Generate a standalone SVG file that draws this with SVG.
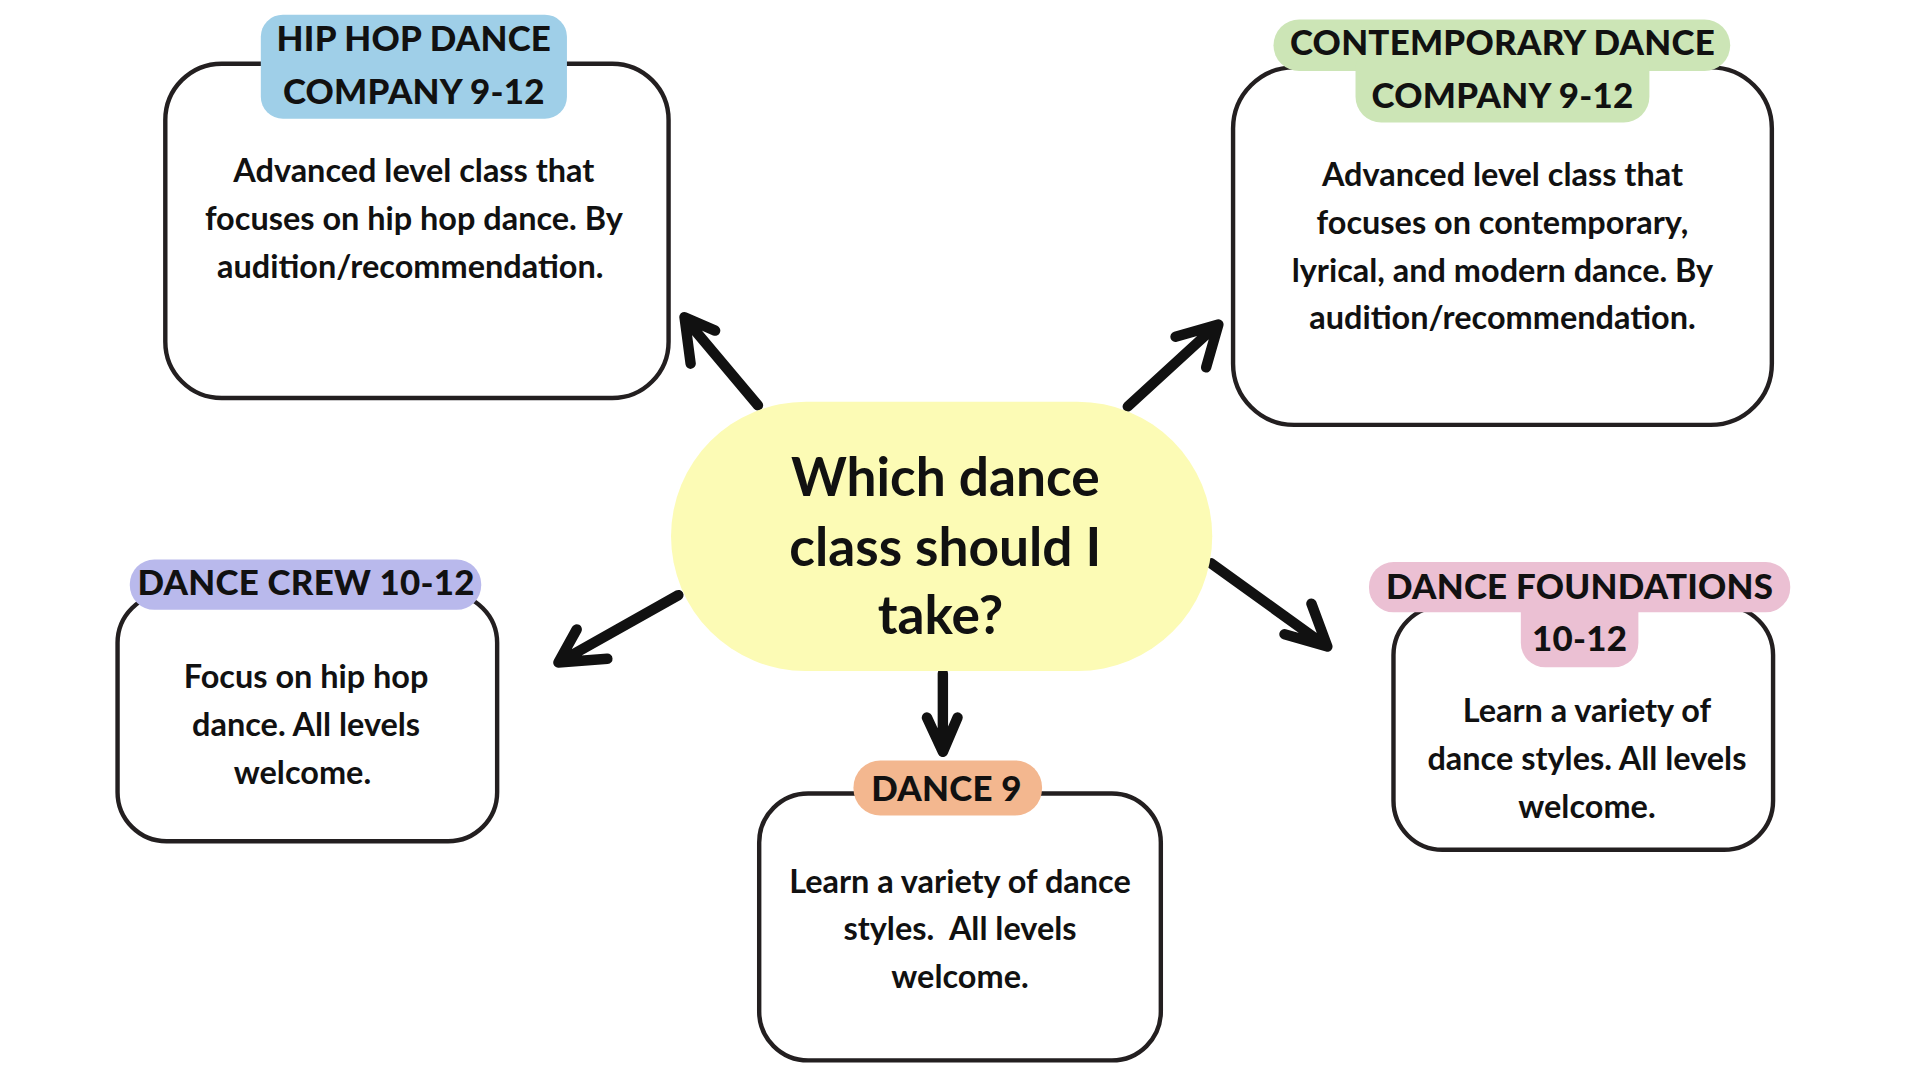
<svg xmlns="http://www.w3.org/2000/svg" width="1920" height="1080" viewBox="0 0 1920 1080">
<style>
.box{fill:#ffffff;stroke:#231f20;stroke-width:3.6}
.head{font-family:Lato,"Noto Sans",sans-serif;font-weight:900;font-size:28.5px;fill:#111;text-anchor:middle;letter-spacing:0.2px}
.body{font-family:Lato,"Noto Sans",sans-serif;font-weight:700;font-size:26.5px;fill:#111;text-anchor:middle}
.q{font-family:Lato,"Noto Sans",sans-serif;font-weight:700;font-size:43.5px;fill:#111;text-anchor:middle}
.arr{fill:none;stroke:#111;stroke-width:8.5;stroke-linecap:round;stroke-linejoin:round}
</style>
<rect width="1920" height="1080" fill="#ffffff"/>
<g transform="scale(1.2245)">
<g id="connectors">
<path class="arr" d="M619,331 L561,262 M584,270 L559,259 L564,297"/>
<path class="arr" d="M921,332 L993,266 M960,275 L995,265 L985,300"/>
<path class="arr" d="M554,486 L458,540 M471,514 L456,541 L496,538"/>
<path class="arr" d="M770,550 L770,612 M757,586 L770,614 L782,586"/>
<path class="arr" d="M989,460 L1082,527 M1071,493 L1084,528 L1049,518"/>
</g>
<g id="center">
<rect x="548" y="328" width="442" height="220" rx="110" ry="110" fill="#fcfbb5"/>
<text class="q" x="772" y="405">Which dance</text>
<text class="q" x="772" y="462">class should I</text>
<text class="q" x="768" y="518">take?</text>
</g>
<g id="hiphop">
<rect class="box" x="135" y="52" width="411" height="273" rx="46"/>
<rect x="213" y="12" width="250" height="85" rx="18" fill="#9fcfe8"/>
<text class="head" x="338" y="42">HIP HOP DANCE</text>
<text class="head" x="338" y="85">COMPANY 9-12</text>
<text class="body" x="338" y="149">Advanced level class that</text>
<text class="body" x="338" y="188">focuses on hip hop dance. By</text>
<text class="body" x="335" y="227">audition/recommendation.</text>
</g>
<g id="contemporary">
<rect class="box" x="1007" y="55" width="440" height="292" rx="50"/>
<rect x="1040" y="16" width="373" height="42" rx="21" fill="#cce5b6"/>
<rect x="1107" y="36" width="240" height="64" rx="21" fill="#cce5b6"/>
<text class="head" x="1227" y="45">CONTEMPORARY DANCE</text>
<text class="head" x="1227" y="88">COMPANY 9-12</text>
<text class="body" x="1227" y="152">Advanced level class that</text>
<text class="body" x="1227" y="191">focuses on contemporary,</text>
<text class="body" x="1227" y="230">lyrical, and modern dance. By</text>
<text class="body" x="1227" y="269">audition/recommendation.</text>
</g>
<g id="crew">
<rect class="box" x="96" y="485" width="310" height="202" rx="40"/>
<rect x="106" y="457" width="287" height="41" rx="20" fill="#b9b9ec"/>
<text class="head" x="250" y="486">DANCE CREW 10-12</text>
<text class="body" x="250" y="562">Focus on hip hop</text>
<text class="body" x="250" y="601">dance. All levels</text>
<text class="body" x="247" y="640">welcome.</text>
</g>
<g id="dance9">
<rect class="box" x="620" y="648" width="328" height="218" rx="40"/>
<rect x="697" y="621" width="154" height="45" rx="22" fill="#f3b78f"/>
<text class="head" x="773" y="654">DANCE 9</text>
<text class="body" x="784" y="729">Learn a variety of dance</text>
<text class="body" x="784" y="768" xml:space="preserve">styles.  All levels</text>
<text class="body" x="784" y="807">welcome.</text>
</g>
<g id="foundations">
<rect class="box" x="1138" y="495" width="310" height="199" rx="40"/>
<rect x="1118" y="459" width="344" height="41" rx="20" fill="#ebc0d3"/>
<rect x="1242" y="480" width="96" height="65" rx="20" fill="#ebc0d3"/>
<text class="head" x="1290" y="489">DANCE FOUNDATIONS</text>
<text class="head" x="1290" y="532">10-12</text>
<text class="body" x="1296" y="590">Learn a variety of</text>
<text class="body" x="1296" y="629">dance styles. All levels</text>
<text class="body" x="1296" y="668">welcome.</text>
</g>
</g>
</svg>
